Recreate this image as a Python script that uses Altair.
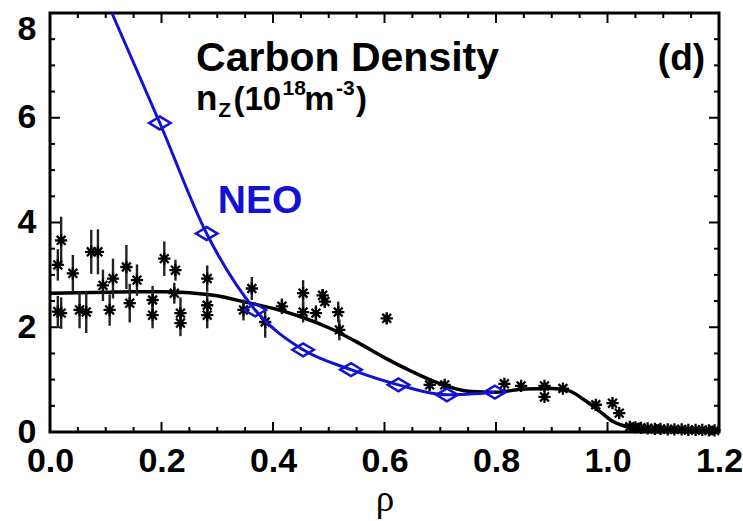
import altair as alt
import pandas as pd

W, H = 669, 419

# ---------------- data ----------------
meas_rho = [0.020, 0.014, 0.014, 0.020, 0.041, 0.053, 0.065, 0.074, 0.086, 0.095,
            0.113, 0.107, 0.137, 0.143, 0.156, 0.184, 0.184, 0.205, 0.225, 0.223,
            0.234, 0.234, 0.282, 0.282, 0.282, 0.362, 0.347, 0.386, 0.416, 0.454,
            0.454, 0.477, 0.489, 0.493, 0.517, 0.519, 0.604, 0.681, 0.708, 0.815,
            0.845, 0.887, 0.887, 0.920, 0.979, 1.009, 1.021,
            1.040, 1.050, 1.060, 1.072, 1.085, 1.095, 1.108, 1.120, 1.133, 1.145,
            1.158, 1.170, 1.182, 1.192]
meas_nz = [3.66, 3.19, 2.30, 2.27, 3.03, 2.33, 2.29, 3.44, 3.44, 2.80,
           2.93, 2.33, 3.15, 2.46, 2.90, 2.52, 2.23, 3.31, 3.09, 2.65,
           2.27, 2.08, 2.93, 2.42, 2.23, 2.74, 2.33, 2.10, 2.40, 2.65,
           2.29, 2.27, 2.61, 2.49, 2.29, 1.95, 2.17, 0.90, 0.90, 0.92,
           0.88, 0.88, 0.67, 0.83, 0.52, 0.55, 0.36,
           0.10, 0.09, 0.08, 0.07, 0.06, 0.06, 0.05, 0.05, 0.05, 0.04,
           0.04, 0.04, 0.03, 0.03]
meas_err = [0.45, 0.30, 0.30, 0.30, 0.35, 0.35, 0.40, 0.42, 0.43, 0.30,
            0.38, 0.30, 0.42, 0.37, 0.30, 0.27, 0.25, 0.33, 0.20, 0.20,
            0.30, 0.25, 0.25, 0.25, 0.25, 0.22, 0.20, 0.30, 0.15, 0.25,
            0.20, 0.15, 0.12, 0.12, 0.20, 0.20, 0.10, 0.10, 0.08, 0.06,
            0.06, 0.06, 0.06, 0.06, 0.06, 0.06, 0.06,
            0.03, 0.03, 0.03, 0.03, 0.03, 0.03, 0.03, 0.03, 0.03, 0.03,
            0.03, 0.03, 0.03, 0.03]

fit_rho = [0.00, 0.05, 0.10, 0.15, 0.20, 0.25, 0.30, 0.35, 0.40, 0.45, 0.50,
           0.55, 0.60, 0.65, 0.70, 0.75, 0.80, 0.85, 0.90, 0.93, 0.96, 0.99,
           1.01, 1.04, 1.07, 1.10, 1.20]
fit_nz = [2.65, 2.66, 2.67, 2.68, 2.68, 2.66, 2.60, 2.48, 2.36, 2.20, 1.99,
          1.72, 1.42, 1.15, 0.92, 0.78, 0.76, 0.82, 0.83, 0.79, 0.60, 0.36,
          0.20, 0.09, 0.05, 0.03, 0.02]

neo_rho = [0.197, 0.281, 0.368, 0.454, 0.540, 0.625, 0.712, 0.798]
neo_nz = [5.90, 3.79, 2.33, 1.57, 1.19, 0.90, 0.71, 0.76]
# where the NEO curve leaves the top of the frame
neo_top_rho = [0.111]
neo_top_nz = [8.0]

x_major = [0.0, 0.2, 0.4, 0.6, 0.8, 1.0, 1.2]
x_minor = [0.05, 0.10, 0.15, 0.25, 0.30, 0.35, 0.45, 0.50, 0.55, 0.65, 0.70,
           0.75, 0.85, 0.90, 0.95, 1.05, 1.10, 1.15]
y_major = [0, 2, 4, 6, 8]
y_minor = [0.5, 1, 1.5, 2.5, 3, 3.5, 4.5, 5, 5.5, 6.5, 7, 7.5]

# ---------------- styling ----------------
FONT = "Liberation Sans"
BLUE = "#1212d4"
STAR = "M-1,0L1,0M0,-1L0,1M-0.72,-0.72L0.72,0.72M-0.72,0.72L0.72,-0.72"
DIAMOND = "M-1,0L0,-0.6L1,0L0,0.6Z"

xs = alt.Scale(domain=[0, 1.2], nice=False, zero=False)
ys = alt.Scale(domain=[0, 8], nice=False, zero=False)

xaxis = alt.Axis(values=x_major, format=".1f", labelFont=FONT, labelFontWeight="bold",
                 labelFontSize=34, labelColor="black", labelPadding=12, labelFlush=False,
                 labelOverlap=False, ticks=False, domain=False, grid=False,
                 titleFont="Liberation Serif", titleFontWeight="normal", titleFontSize=37,
                 titleColor="black", titlePadding=3)
yaxis = alt.Axis(values=y_major, format="d", labelFont=FONT, labelFontWeight="bold",
                 labelFontSize=34, labelColor="black", labelPadding=14, labelFlush=False,
                 labelOverlap=False, ticks=False, domain=False, grid=False,
                 labelOffset=alt.ExprRef(expr="datum.value == 8 ? 16 : 0"))


def X(f):
    return alt.X(f, type="quantitative", scale=xs, axis=xaxis, title="ρ")


def Y(f):
    return alt.Y(f, type="quantitative", scale=ys, axis=yaxis, title=None)


meas = pd.DataFrame({"rho": meas_rho, "nz": meas_nz, "err": meas_err})
meas["lo"] = meas["nz"] - meas["err"]
meas["hi"] = meas["nz"] + meas["err"]
fit_df = pd.DataFrame({"rho": fit_rho, "nz": fit_nz})
neo_pts_df = pd.DataFrame({"rho": neo_rho, "nz": neo_nz})
neo_line_df = pd.DataFrame({"rho": neo_top_rho + neo_rho, "nz": neo_top_nz + neo_nz})

layers = []

# inward ticks on all four sides
MAJ, MIN = 10, 5
for vals, ln in ((x_major, MAJ), (x_minor, MIN)):
    d = pd.DataFrame({"t": vals})
    layers.append(alt.Chart(d).mark_rule(color="black", strokeWidth=2).encode(
        x=X("t"), y=alt.value(H), y2=alt.value(H - ln)))
    layers.append(alt.Chart(d).mark_rule(color="black", strokeWidth=2).encode(
        x=X("t"), y=alt.value(0), y2=alt.value(ln)))
for vals, ln in ((y_major, MAJ), (y_minor, MIN)):
    d = pd.DataFrame({"t": vals})
    layers.append(alt.Chart(d).mark_rule(color="black", strokeWidth=2).encode(
        y=Y("t"), x=alt.value(0), x2=alt.value(ln)))
    layers.append(alt.Chart(d).mark_rule(color="black", strokeWidth=2).encode(
        y=Y("t"), x=alt.value(W), x2=alt.value(W - ln)))

layers.append(alt.Chart(fit_df).mark_line(color="black", strokeWidth=3.5,
                                          interpolate="monotone").encode(x=X("rho"), y=Y("nz")))
layers.append(alt.Chart(meas).mark_rule(color="#222222", strokeWidth=2.4).encode(
    x=X("rho"), y=Y("lo"), y2="hi"))
layers.append(alt.Chart(meas).mark_point(shape=STAR, size=150, filled=False, color="black",
                                         strokeWidth=2.3, opacity=1).encode(x=X("rho"), y=Y("nz")))
layers.append(alt.Chart(neo_line_df).mark_line(color=BLUE, strokeWidth=3,
                                               interpolate="monotone").encode(x=X("rho"), y=Y("nz")))
layers.append(alt.Chart(neo_pts_df).mark_point(shape=DIAMOND, size=460, filled=False, color=BLUE,
                                               strokeWidth=2.5, opacity=1).encode(x=X("rho"), y=Y("nz")))


def txt(s, x, y, size, color="black", align="left", font=FONT, weight="bold"):
    d = pd.DataFrame({"x": [x], "y": [y]})
    return alt.Chart(d).mark_text(text=s, align=align, baseline="alphabetic", font=font,
                                  fontWeight=weight, fontSize=size, color=color).encode(
        x=X("x"), y=Y("y"))


# annotations (text, x, y in data units, font size)
layers.append(txt("Carbon Density", 0.262, 6.89, 41))
layers.append(txt("n", 0.262, 6.15, 35))
layers.append(txt("Z", 0.302, 6.01, 21))
layers.append(txt("(10", 0.329, 6.15, 33))
layers.append(txt("18", 0.417, 6.43, 21))
layers.append(txt("m", 0.456, 6.15, 34))
layers.append(txt("-3", 0.513, 6.43, 21))
layers.append(txt(")", 0.549, 6.15, 33))
layers.append(txt("(d)", 1.175, 6.91, 37, align="right"))
layers.append(txt("NEO", 0.301, 4.18, 39, color=BLUE))

chart = alt.layer(*layers).properties(
    width=W, height=H,
    padding={"left": 50, "top": 13, "right": 24, "bottom": 89},
    autosize=alt.AutoSizeParams(type="none"),
    background="white",
).configure_view(stroke="black", strokeWidth=3)

chart.save("out.html", embed_options={"renderer": "svg", "actions": False})
